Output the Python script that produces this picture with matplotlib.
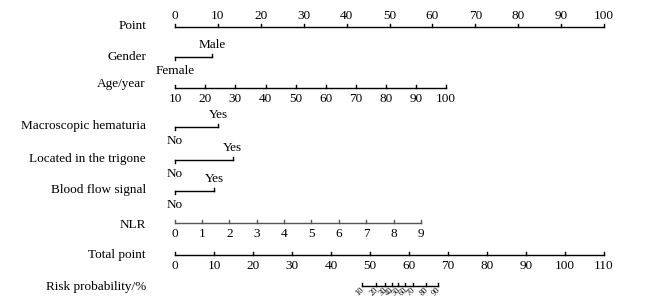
import numpy as np
import matplotlib
matplotlib.use("Agg")
from matplotlib import pyplot as plt

plt.rcParams['font.family'] = ['Liberation Serif', 'DejaVu Serif']

# scale values (x positions are in "Point" units)
point_ticks = [0, 10, 20, 30, 40, 50, 60, 70, 80, 90, 100]
gender_levels = ["Female", "Male"]
gender_pts = [0, 8.6]
age_ticks = [10, 20, 30, 40, 50, 60, 70, 80, 90, 100]
age_pts = [0, 7.0, 14.0, 21.1, 28.1, 35.1, 42.1, 49.1, 56.2, 63.2]
yesno_levels = ["No", "Yes"]
hematuria_pts = [0, 10.1]
trigone_pts = [0, 13.5]
bloodflow_pts = [0, 9.2]
nlr_ticks = [0, 1, 2, 3, 4, 5, 6, 7, 8, 9]
nlr_pts = [0, 6.37, 12.7, 19.1, 25.5, 31.8, 38.2, 44.6, 51.0, 57.3]
total_ticks = [0, 10, 20, 30, 40, 50, 60, 70, 80, 90, 100, 110]
risk_ticks = [10, 20, 30, 40, 50, 60, 70, 80, 90]
risk_total = [48.0, 51.5, 53.8, 55.6, 57.3, 59.0, 61.0, 64.4, 67.5]

fig = plt.figure(figsize=(6.64, 3.06), dpi=100)
ax = fig.add_axes([0, 0, 1, 1])
px = 4.29  # pixels per point
ax.set_xlim(-175 / px, (664 - 175) / px)
ax.set_ylim(306, 0)
ax.axis("off")

fs = 9.5
lab_x = (146 - 175) / px  # right edge of row labels
tick_len = 3


def row_label(y, text):
    ax.text(lab_x, y, text, ha="right", va="center", fontsize=fs)


def cont_axis(y, xs, labels, above, color="black"):
    ax.plot([xs[0], xs[-1]], [y, y], color=color, lw=1)
    for x, l in zip(xs, labels):
        ax.plot([x, x], [y, y - tick_len], color=color, lw=1)
        if above:
            ax.text(x, y - 11, str(l), ha="center", va="center", fontsize=fs)
        else:
            ax.text(x, y + 11, str(l), ha="center", va="center", fontsize=fs)


def cat_axis(y, xs, levels):
    ax.plot([xs[0], xs[-1]], [y, y], color="black", lw=1)
    ax.plot([xs[0], xs[0]], [y, y + tick_len], color="black", lw=1)
    ax.plot([xs[-1], xs[-1]], [y, y - tick_len], color="black", lw=1)
    ax.text(xs[0], y + 14, levels[0], ha="center", va="center", fontsize=fs)
    ax.text(xs[-1], y - 12, levels[-1], ha="center", va="center", fontsize=fs)


# Point
row_label(26, "Point")
cont_axis(27, point_ticks, point_ticks, above=True)

# Gender
row_label(57, "Gender")
cat_axis(57, gender_pts, gender_levels)

# Age
row_label(84, "Age/year")
cont_axis(88, age_pts, age_ticks, above=False)

row_label(126, "Macroscopic hematuria")
cat_axis(127, hematuria_pts, yesno_levels)

row_label(159, "Located in the trigone")
cat_axis(160, trigone_pts, yesno_levels)

row_label(190, "Blood flow signal")
cat_axis(191, bloodflow_pts, yesno_levels)

row_label(225, "NLR")
cont_axis(223, nlr_pts, nlr_ticks, above=False, color="#555555")

# Total point, on the same scale as Point (110 total = 100 point)
row_label(255, "Total point")
total_x = [t * 100 / 110 for t in total_ticks]
cont_axis(255, total_x, total_ticks, above=False)

# Risk
row_label(287, "Risk probability/%")
risk_x = [t * 100 / 110 for t in risk_total]
ry = 286
ax.plot([risk_x[0], risk_x[-1]], [ry, ry], color="black", lw=1)
for x, l in zip(risk_x, risk_ticks):
    ax.plot([x, x], [ry, ry - tick_len], color="black", lw=1)
    ax.text(x + 0.2, ry + 3, str(l), ha="right", va="center", fontsize=6,
            rotation=45, rotation_mode="anchor")

fig.savefig("out.png", dpi=100)
